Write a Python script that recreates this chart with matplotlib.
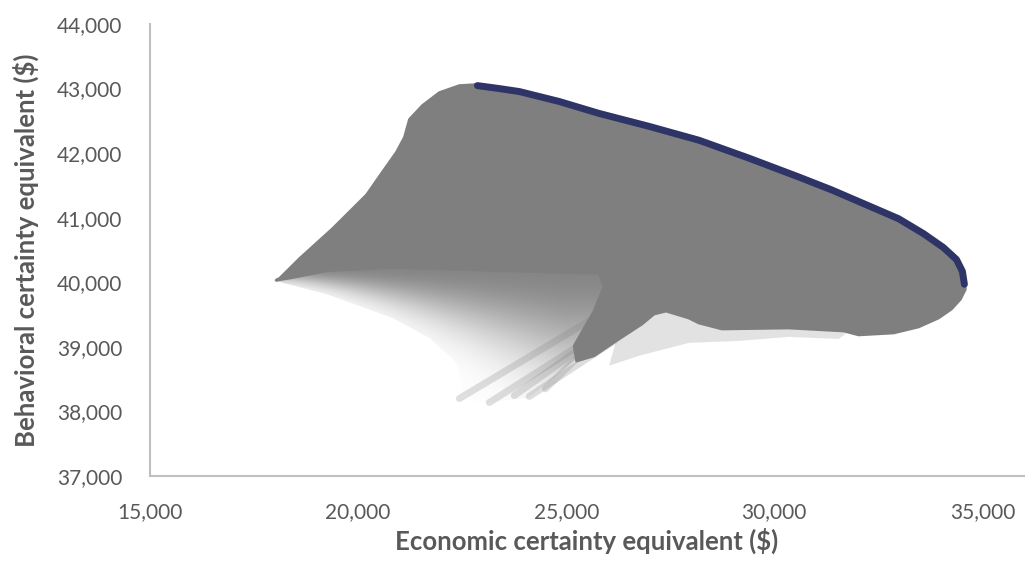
import numpy as np
import matplotlib
matplotlib.use("Agg")
import matplotlib.pyplot as plt
from matplotlib.patches import Polygon

plt.rcParams['font.family'] = ['Lato', 'DejaVu Sans']

# efficient frontier (dark blue points)
frontier_x = [22866, 23393, 23873, 24832, 25791, 26990, 28189, 29388, 30587, 31378,
              32266, 32985, 33584, 34064, 34376, 34520, 34568]
frontier_y = [43046, 43000, 42954, 42800, 42615, 42415, 42200, 41923, 41631, 41431,
              41185, 40985, 40754, 40538, 40354, 40169, 39969]

# outline of the dense grey cloud of portfolios (left edge, then lower edge)
cloud_left_x = [18030, 18117, 18597, 19388, 20204, 20587, 20923, 21115, 21235, 21547,
                21954, 22434, 22842]
cloud_left_y = [40031, 40062, 40369, 40831, 41354, 41708, 42015, 42246, 42523, 42738,
                42938, 43046, 43062]
cloud_low_x = [34592, 34472, 34256, 33944, 33465, 32865, 32026, 31666, 30347, 28741,
               28189, 27949, 27398, 27110, 26822, 26199, 25671, 25250, 25192, 25671,
               25911, 25791, 23393, 20827, 19245, 18400]
cloud_low_y = [39892, 39738, 39585, 39446, 39308, 39215, 39185, 39246, 39292, 39277,
               39369, 39446, 39554, 39508, 39354, 39092, 38862, 38780, 39015, 39554,
               39938, 40138, 40180, 40230, 40180, 40070]

# thinner fan of portfolios below the tip
fan_x = [18045, 19245, 20827, 21714, 22362, 22506, 22314, 23153, 24112, 25192,
         25911, 25911, 22434, 19245]
fan_y = [40015, 39815, 39446, 39138, 38754, 38323, 38169, 38138, 38215, 38785,
         39708, 40200, 40292, 40231]

# light fuzz below the lower edge
fuzz_x = [26199, 26822, 27398, 27949, 28741, 30347, 31546, 31714, 31546, 30347,
          29148, 27949, 26750, 26031]
fuzz_y = [39092, 39400, 39662, 39477, 39308, 39323, 39354, 39200, 39123, 39154,
          39092, 39062, 38862, 38708]

# darker streaks inside the fan
streak_x0 = [25863, 25551, 26151, 25431, 25300]
streak_y0 = [39246, 39400, 39092, 39015, 38850]
streak_x1 = [23153, 22434, 24112, 23753, 24500]
streak_y1 = [38138, 38200, 38231, 38246, 38350]

grey = '#7f7f7f'
navy = '#2e3466'
txt = '#595959'

fig = plt.figure(figsize=(10.29, 5.63), dpi=100)
ax = fig.add_axes([150/1029, 87/563, 874/1029, 452/563])

# gradient fan clipped to its outline
fan = Polygon(list(zip(fan_x, fan_y)), closed=True, facecolor='none', edgecolor='none')
ax.add_patch(fan)
gx = np.linspace(18000, 26000, 300)
gy = np.linspace(38100, 40300, 200)
GX, GY = np.meshgrid(gx, gy)
fade = 200 + 1300 * np.clip((GX - 18000) / 7000, 0, 1) ** 1.5
dist = np.clip(40220 - GY, 0, None)
alpha = np.clip(0.95 * np.exp(-(dist / fade) ** 2), 0, 1)
img = np.zeros(GX.shape + (4,))
img[..., :3] = 127 / 255
img[..., 3] = alpha
im = ax.imshow(img, extent=[18000, 26000, 38100, 40300], origin='lower',
               aspect='auto', interpolation='bilinear', zorder=2)
im.set_clip_path(fan)

for x0, y0, x1, y1 in zip(streak_x0, streak_y0, streak_x1, streak_y1):
    ax.plot([x0, x1], [y0, y1], color=grey, alpha=0.25, lw=5,
            solid_capstyle='round', zorder=3)

ax.fill(fuzz_x, fuzz_y, color=grey, alpha=0.22, lw=0, zorder=3)

cloud_x = cloud_left_x + frontier_x + cloud_low_x
cloud_y = cloud_left_y + frontier_y + cloud_low_y
ax.fill(cloud_x, cloud_y, facecolor=grey, edgecolor=grey, lw=2,
        joinstyle='round', zorder=4)

ax.plot(frontier_x, frontier_y, color=navy, lw=5, solid_capstyle='round',
        solid_joinstyle='round', zorder=5)

ax.set_xlim(15000, 36000)
ax.set_ylim(37000, 44000)
ax.set_xticks([15000, 20000, 25000, 30000, 35000])
ax.set_yticks(range(37000, 44001, 1000))
ax.xaxis.set_major_formatter(matplotlib.ticker.StrMethodFormatter('{x:,.0f}'))
ax.yaxis.set_major_formatter(matplotlib.ticker.StrMethodFormatter('{x:,.0f}'))
ax.tick_params(length=0, labelsize=15, labelcolor=txt)
ax.tick_params(axis='y', pad=20)
ax.tick_params(axis='x', pad=19)

for s in ['top', 'right']:
    ax.spines[s].set_visible(False)
for s in ['left', 'bottom']:
    ax.spines[s].set_color('#bfbfbf')
    ax.spines[s].set_linewidth(1.5)

ax.set_xlabel('Economic certainty equivalent ($)', fontsize=18.5, fontweight='bold',
              color=txt, labelpad=4)
ax.set_ylabel('Behavioral certainty equivalent ($)', fontsize=18.5, fontweight='bold',
              color=txt, labelpad=13)

fig.savefig('out.png', dpi=100)
